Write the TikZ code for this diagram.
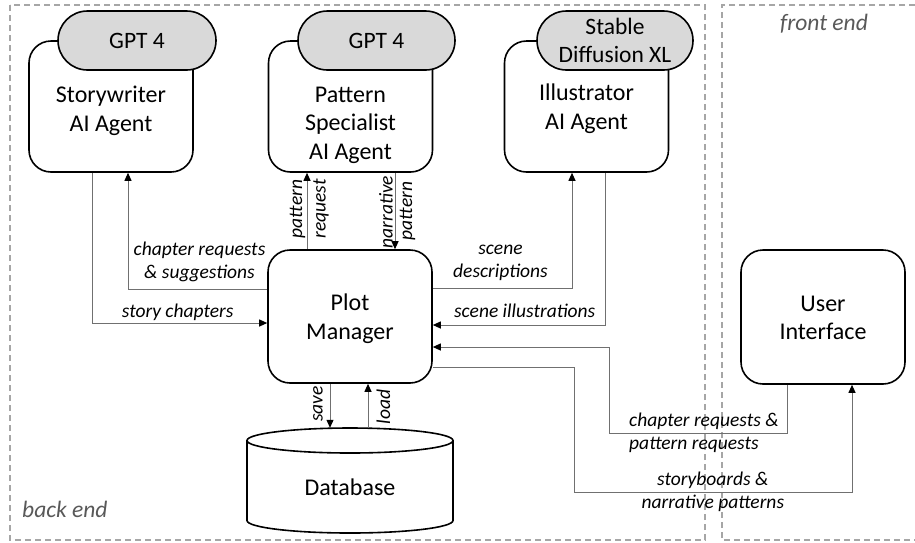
\documentclass[tikz,border=0pt]{standalone}
\usepackage{fontspec}
\setmainfont{Carlito}
\usetikzlibrary{arrows.meta}
\definecolor{pillgray}{HTML}{D9D9D9}
\definecolor{framegray}{HTML}{A6A6A6}
\definecolor{linegray}{HTML}{707070}
\definecolor{endgray}{HTML}{595959}
\begin{document}
\begin{tikzpicture}[x=1pt,y=-1pt,
  box/.style={draw=black, line width=1.6pt, rounded corners=22pt, fill=white, minimum width=164pt, minimum height=131pt, inner sep=0pt},
  pill/.style={draw=black, line width=1.6pt, rounded corners=29.5pt, fill=pillgray, minimum height=59pt, inner sep=0pt, font=\fontsize{23.5}{28.5}\selectfont},
  txt/.style={inner sep=0pt, font=\fontsize{24}{28.5}\selectfont},
  lbl/.style={inner sep=0pt, font=\fontsize{19.5}{23}\selectfont\itshape},
  conn/.style={draw=linegray, line width=1pt, -{Triangle[length=8pt,width=7pt,color=black]}},
  frame/.style={draw=framegray, line width=1.3pt, dash pattern=on 6pt off 4pt},
  endlbl/.style={inner sep=0pt, text=endgray, font=\fontsize{23.5}{28}\selectfont\itshape}]
\fill[white] (0,0) rectangle (915,542);
\useasboundingbox (0,0) rectangle (915,542);

% frames
\draw[frame] (10,5) rectangle (705,540);
\draw[frame] (915,5) -- (722,5) -- (722,540) -- (915,540);
\node[endlbl, anchor=base west] (be) at (22,517) {back end};
\node[endlbl, anchor=base] (fe) at (824,30.5) {front end};

% boxes
\node[box] (sw) at (111,106.5) {};
\node[box] (ps) at (350.5,106.5) {};
\node[box] (il) at (586.5,106.5) {};
\node[box, minimum height=133pt] (pm) at (350,316.5) {};
\node[box, minimum height=134pt] (ui) at (823,317) {};

% pills
\node[pill, minimum width=158pt] (g1) at (137,40.5) {GPT 4};
\node[pill, minimum width=157pt] (g2) at (376.5,40.5) {GPT 4};
\node[pill, minimum width=156pt, align=center] (sd) at (615,40.5) {Stable\\Diffusion XL};

% box texts
\node[txt, align=center] (swt) at (111,111) {Storywriter\\AI Agent};
\node[txt, align=center] (pst) at (350.5,125) {Pattern\\Specialist\\AI Agent};
\node[txt, align=center] (ilt) at (586.5,108.5) {Illustrator\\AI Agent};
\node[txt, align=center] (pmt) at (350,318.5) {Plot\\Manager};
\node[txt, align=center] (uit) at (823,318) {User\\Interface};

% database cylinder
\draw[line width=1.6pt, fill=white] (247,440.5) -- (247,520.5)
  .. controls (247,527.4) and (293.1,533) .. (350,533)
  .. controls (406.9,533) and (453,527.4) .. (453,520.5) -- (453,440.5);
\draw[line width=1.6pt, fill=white] (350,440.5) ellipse [x radius=103pt, y radius=12.5pt];
\node[inner sep=0pt, minimum width=206pt, minimum height=105pt] (db) at (350,480.5) {};
\node[txt, anchor=base] (dbt) at (350,495) {Database};

% named bend points
\coordinate (c1) at (609,433);
\coordinate (c2) at (574,492);

% connectors
\draw[conn] ([xshift=-19pt]sw.south) |- ([yshift=-6.5pt]pm.west);
\draw[conn] ([yshift=27.5pt]pm.west) -| ([xshift=17pt]sw.south);
\draw[conn] ([xshift=-43pt]pm.north) -- ([xshift=-43pt]pm.north |- ps.south);
\draw[conn] ([xshift=45pt]pm.north |- ps.south) -- ([xshift=45pt]pm.north);
\draw[conn] ([yshift=28.5pt]pm.east) -| ([xshift=-14.5pt]il.south);
\draw[conn] ([xshift=18.5pt]il.south) |- ([yshift=-8.5pt]pm.east);
\draw[conn] ([xshift=-36pt]ui.south) |- (c1) |- ([yshift=-30.5pt]pm.east);
\draw[conn] ([yshift=-50.5pt]pm.east) -| (c2) -| ([xshift=29pt]ui.south);
\draw[conn] ([xshift=-20pt]pm.south) -- ([xshift=-20pt]pm.south |- db.north);
\draw[conn] ([xshift=18pt]pm.south |- db.north) -- ([xshift=18pt]pm.south);

% labels
\node[lbl, align=center] (l1) at (199.5,261.6) {chapter requests\\\& suggestions};
\node[lbl, anchor=base] (l2) at (177.7,317) {story chapters};
\node[lbl, rotate=90] (l3) at (297.5,209) {pattern};
\node[lbl, rotate=90] (l4) at (321,209) {request};
\node[lbl, rotate=90] (l5) at (386,212) {narrative};
\node[lbl, rotate=90] (l6) at (407.5,211) {pattern};
\node[lbl, align=center] (l7) at (500.5,262.5) {scene\\descriptions};
\node[lbl, anchor=base] (l8) at (524.7,317) {scene illustrations};
\node[lbl, align=left, anchor=west] (l9) at (629,433) {chapter requests \&\\pattern requests};
\node[lbl, align=center] (l10) at (712.8,492) {storyboards \&\\narrative patterns};
\node[lbl, rotate=90] (l11) at (318,404) {save};
\node[lbl, rotate=90] (l12) at (383.5,407) {load};
\end{tikzpicture}
\end{document}
